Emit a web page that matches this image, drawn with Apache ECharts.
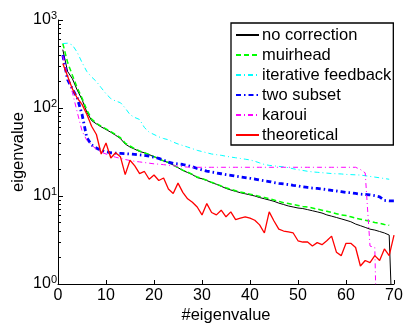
<!DOCTYPE html>
<html>
<head>
<meta charset="utf-8">
<script src="https://cdn.jsdelivr.net/npm/echarts@6/dist/echarts.min.js"></script>
<style>html,body{margin:0;padding:0;background:#fff}#c{width:409px;height:325px}</style>
</head>
<body>
<div id="c"></div>
<script>
// ---- data ----
const seriesNames = ['no correction', 'muirhead', 'iterative feedback', 'two subset', 'karoui', 'theoretical'];
const xTicks = [0, 10, 20, 30, 40, 50, 60, 70];
const yTicks = [1, 10, 100, 1000];
const yMinorTicks = [2,3,4,5,6,7,8,9,20,30,40,50,60,70,80,90,200,300,400,500,600,700,800,900];

const noCorrection = [460,260,215,160,125,90,72,66,61,57,53,49,45,39,36,34,32,31,29.5,28,26.5,25,24,22.5,21,19.5,18.5,17.5,16.2,15.7,15,14.2,13.6,12.9,12.2,11.7,11.3,10.9,10.6,10.3,10.0,9.6,9.3,9.0,8.7,8.3,8.0,7.7,7.5,7.3,7.2,7.0,6.8,6.6,6.4,6.1,5.9,5.7,5.5,5.3,5.1,4.8,4.6,4.4,4.2,4.1,3.95,3.8,3.6,0.1];
const muirhead = [540,330,235,170,130,95,75,67,62,58,54,50,46,40,37,34.5,32.5,31,29.5,28,26.5,25,24,22.5,21,19.7,18.7,17.6,16.4,15.8,15.1,14.3,13.7,13.0,12.4,11.9,11.5,11.1,10.8,10.5,10.2,9.9,9.6,9.3,9.0,8.7,8.4,8.2,8.0,7.8,7.6,7.5,7.3,7.1,6.9,6.7,6.5,6.3,6.1,6.0,5.8,5.6,5.45,5.3,5.15,5.0,4.9,4.75,4.65];
const iterativeFeedback = [540,545,520,430,330,260,225,200,170,145,128,120,115,100,84,78,74,60,53,50,47,45,43.5,41,39,37.5,36,34.5,33,32,31,30,29.5,29,28.3,27.7,27.2,26.7,26.2,25.7,24.8,23.8,22.8,22.3,22.0,21.7,21.4,21.0,20.4,19.9,19.5,19.1,18.8,18.6,18.4,18.2,18.0,17.9,17.8,17.6,17.5,17.4,17.3,17.0,16.7,16.4,16.1,15.8,15.5];
const twoSubset = [400,210,165,130,85,46,38,35,33,31.8,31,30.7,30.5,30.3,30,29.7,29.3,29,28.3,27.5,26.8,25.5,24.3,23.5,23.2,22.8,22.2,21.5,20.5,19.8,19.2,18.7,18.3,17.9,17.5,17.2,16.8,16.5,16.2,15.9,15.6,15.2,14.9,14.6,14.2,13.9,13.7,13.5,13.2,13.0,12.7,12.5,12.3,12.2,12.0,11.8,11.6,11.4,11.2,11.0,10.9,10.7,10.5,10.4,10.3,10.1,9.8,8.9,8.8,8.8];
const karoui = [390,230,150,90,55,43,38,34,31.5,30,28.7,27.6,26.8,26,25.3,24.8,24.4,24,23.6,23.2,23,22.7,22.4,22.1,21.8,21.5,21.3,21.2,21.2,21.2,21.2,21.2,21.2,21.2,21.2,21.2,21.2,21.2,21.2,21.2,21.2,21.2,21.2,21.2,21.2,21.2,21.2,21.2,21.2,21.2,21.2,21.2,21.2,21.2,21.2,21.2,21.2,21.2,21.2,21.2,21.2,21.2,20,18.3,2.7,2.6,0.01];
const theoretical = [320,230,165,130,110,85,62,50,30,40,27,31,28,17.5,25.5,22,18,19,15.5,17.3,15,16,12,10.7,14,11,9.3,8.5,7.5,6.1,8.2,6.5,6.1,6.9,5.8,6.6,5.4,5.6,5.8,5.6,5.3,4.7,3.8,6.6,5.2,4.2,4.0,3.9,3.8,3.1,3.0,3.0,2.7,2.95,2.8,3.1,3.5,2.3,2.1,2.9,2.9,2.6,1.6,1.85,1.75,2.1,1.85,2.5,2.1,3.6];

const FONT = 'Liberation Sans, Arial, Helvetica, sans-serif';
const pairs = arr => arr.map((v, i) => [i + 1, v]);

const styles = [
  {color: '#000000', width: 1, type: 'solid'},
  {color: '#00ff00', width: 1.5, type: [5, 3]},
  {color: '#00ffff', width: 1, type: [5, 3, 1, 3]},
  {color: '#0000ff', width: 2.8, type: [5, 3, 1.5, 3]},
  {color: '#ff00ff', width: 1, type: [5, 3, 1, 3]},
  {color: '#ff0000', width: 1.3, type: 'solid'}
];
const datas = [noCorrection, muirhead, iterativeFeedback, twoSubset, karoui, theoretical];

const series = datas.map((d, k) => ({
  name: seriesNames[k],
  type: 'line',
  data: pairs(d),
  showSymbol: false,
  symbol: 'none',
  clip: true,
  animation: false,
  z: 2 + k,
  lineStyle: {color: styles[k].color, width: styles[k].width, type: styles[k].type},
  itemStyle: {color: styles[k].color}
}));

const chart = echarts.init(document.getElementById('c'), null, {renderer: 'canvas'});
chart.setOption({
  animation: false,
  backgroundColor: '#ffffff',
  grid: {left: 58, top: 20, right: 15, bottom: 41, containLabel: false, outerBoundsMode: 'none'},
  legend: {
    orient: 'vertical',
    left: 231, top: 23,
    data: seriesNames,
    itemWidth: 23, itemHeight: 14, itemGap: 0,
    padding: [2, 2, 0, 4],
    borderColor: '#000', borderWidth: 1.3,
    backgroundColor: '#ffffff',
    itemStyle: {opacity: 0},
    textStyle: {fontFamily: FONT, fontSize: 16.5, color: '#000', lineHeight: 20, padding: [0, 0, 0, -2]},
    selectedMode: false
  },
  xAxis: {
    type: 'value', min: 0, max: 70, interval: 10,
    name: '#eigenvalue', nameLocation: 'middle', nameGap: 23, nameMoveOverlap: false,
    nameTextStyle: {fontFamily: FONT, fontSize: 16.5, color: '#000'},
    axisLine: {show: true, lineStyle: {color: '#000', width: 1}},
    axisTick: {show: true, inside: true, length: 4, lineStyle: {color: '#000'}},
    axisLabel: {fontFamily: FONT, fontSize: 16, color: '#000', margin: 4},
    splitLine: {show: false}
  },
  yAxis: [{
    type: 'log', min: 1, max: 1000, logBase: 10,
    name: 'eigenvalue', nameLocation: 'middle', nameGap: 31, nameRotate: 90, nameMoveOverlap: false,
    nameTextStyle: {fontFamily: FONT, fontSize: 16.5, color: '#000'},
    axisLine: {show: true, lineStyle: {color: '#000', width: 1}},
    axisTick: {show: true, inside: true, length: 5, lineStyle: {color: '#000'}},
    axisLabel: {
      margin: 1,
      formatter: v => '{b|10}{s|' + Math.round(Math.log10(v)) + '}',
      rich: {
        b: {fontFamily: FONT, fontSize: 16, color: '#000', lineHeight: 20, verticalAlign: 'middle'},
        s: {fontFamily: FONT, fontSize: 11, color: '#000', lineHeight: 10, verticalAlign: 'top'}
      }
    },
    splitLine: {show: false}
  }, {
    type: 'log', min: 1, max: 1000, logBase: 10, position: 'left', offset: 0,
    axisLine: {show: false},
    axisTick: {show: true, inside: true, length: 3, lineStyle: {color: '#000'}, customValues: yMinorTicks},
    axisLabel: {show: true, customValues: yMinorTicks, formatter: () => ''},
    splitLine: {show: false}
  }],
  series: series
});
</script>
</body>
</html>
